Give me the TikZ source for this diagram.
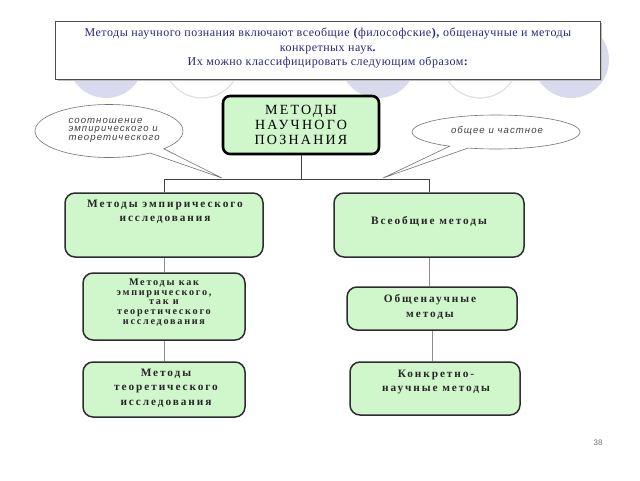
\documentclass[tikz,border=0pt]{standalone}
\usepackage{fontspec}
\setmainfont{Liberation Serif}
\newfontfamily\hdrfont[LetterSpace=4]{Liberation Serif}
\newfontfamily\topfont[LetterSpace=16]{Liberation Serif}
\newfontfamily\boxfont[LetterSpace=17]{Liberation Serif}
\newfontfamily\bubfont[LetterSpace=11]{Liberation Sans}
\newfontfamily\numfont{Liberation Sans}
\usetikzlibrary{shapes.callouts,shapes.geometric}
\definecolor{lav}{RGB}{218,218,238}
\definecolor{circline}{RGB}{222,222,230}
\definecolor{gfill}{RGB}{208,246,204}
\definecolor{navy}{RGB}{40,40,125}
\definecolor{bord}{RGB}{45,45,45}
\tikzset{
  lavcirc/.style={fill=lav},
  whcirc/.style={fill=white,draw=circline,line width=1.2pt},
  hdrbox/.style={draw=black!70,line width=1pt,fill=white,minimum width=545,minimum height=58,inner sep=0pt},
  hdrtext/.style={font=\hdrfont\fontsize{12}{14.3}\selectfont,text=navy,align=center},
  mainbox/.style={draw=black,line width=2.6pt,fill=gfill,rounded corners=7pt,minimum width=156,minimum height=58,inner sep=0pt,
     font=\topfont\fontsize{14}{14.6}\selectfont,align=center},
  gbox/.style={draw=bord,line width=1.5pt,fill=gfill,rounded corners=10pt,inner sep=0pt},
  btext/.style={font=\boxfont\bfseries\fontsize{11.3}{14.2}\selectfont,align=center,text=black!85},
  bub/.style={ellipse callout,draw=black!55,line width=0.6pt,fill=white,inner sep=0pt,callout pointer arc=14},
  bubtext/.style={font=\bubfont\itshape\fontsize{9.6}{8.7}\selectfont,text=black!75},
  conn/.style={draw=black!75,line width=0.8pt},
  connl/.style={draw=black!45,line width=1pt}
}
\begin{document}
\begin{tikzpicture}[x=1pt,y=-1pt]
\useasboundingbox (0,0) rectangle (640,480);
\fill[white] (0,0) rectangle (640,480);
% background circles of the template
\fill[lavcirc] (106,60) circle (38);
\filldraw[whcirc] (202,60) circle (38);
\fill[lavcirc] (378,60) circle (38);
\filldraw[whcirc] (480,60) circle (38);
\fill[lavcirc] (571,60) circle (38);
% header
\fill[black!25] (58,23) rectangle (602,81);
\node[hdrbox] (hdr) at (328,50) {};
\node[hdrtext] (hdrt) at (328,48) {Методы научного познания включают всеобщие \textbf{(}философские\textbf{),} общенаучные и методы\\конкретных наук\textbf{.}\\Их можно классифицировать следующим образом\textbf{:}};
% main box
\node[mainbox] (main) at (301,125) {МЕТОДЫ\\НАУЧНОГО\\ПОЗНАНИЯ};
% bubbles
\coordinate (tipL) at (222,178);
\coordinate (tipR) at (383,178);
\node[bub,minimum width=148,minimum height=53,callout absolute pointer={(tipL)}] (bubL) at (109,131) {};
\node[bubtext,align=left,anchor=north west] (bubLt) at (65,114.5) {соотношение\\эмпирического и\\теоретического};
\node[bub,minimum width=168,minimum height=34,callout absolute pointer={(tipR)}] (bubR) at (496,132) {};
\node[bubtext] (bubRt) at (497,130.5) {общее и частное};
% level 1
\node[gbox,minimum width=198,minimum height=64] (emp) at (164,225) {};
\node[btext] (empt) at (165,212) {Методы эмпирического\\исследования};
\node[gbox,minimum width=190,minimum height=64] (vs) at (429,225) {};
\node[btext] (vst) at (429,221) {Всеобщие методы};
% level 2
\node[gbox,minimum width=162,minimum height=67] (kak) at (164,306.5) {};
\node[btext,font=\boxfont\bfseries\fontsize{10.2}{9.6}\selectfont] (kakt) at (164,302.5) {Методы как\\эмпирического,\\так и\\теоретического\\исследования};
\node[gbox,minimum width=170,minimum height=43] (obsh) at (432,308.5) {};
\node[btext] (obsht) at (430,307) {Общенаучные\\методы};
% level 3
\node[gbox,minimum width=162,minimum height=55] (teor) at (164,389.5) {};
\node[btext,font=\boxfont\bfseries\fontsize{11.3}{14.5}\selectfont] (teort) at (166,388) {Методы\\теоретического\\исследования};
\node[gbox,minimum width=170,minimum height=53] (konk) at (435,388.5) {};
\node[btext] (konkt) at (436,382) {Конкретно-\\научные методы};
% connectors
\coordinate (jn) at (301,179);
\draw[conn] (main.south) -- (jn);
\draw[conn] (emp.north) -- (emp.north |- jn) -- (vs.north |- jn) -- (vs.north);
\draw[connl] (emp.south) -- (kak.north);
\draw[connl] (kak.south) -- (teor.north);
\draw[connl] (vs.south) -- (vs.south |- obsh.north);
\draw[connl] (obsh.south) -- (obsh.south |- konk.north);
% page number
\node[font=\numfont\fontsize{8}{9}\selectfont,text=black!55] (pg) at (598,443) {38};
\end{tikzpicture}
\end{document}
